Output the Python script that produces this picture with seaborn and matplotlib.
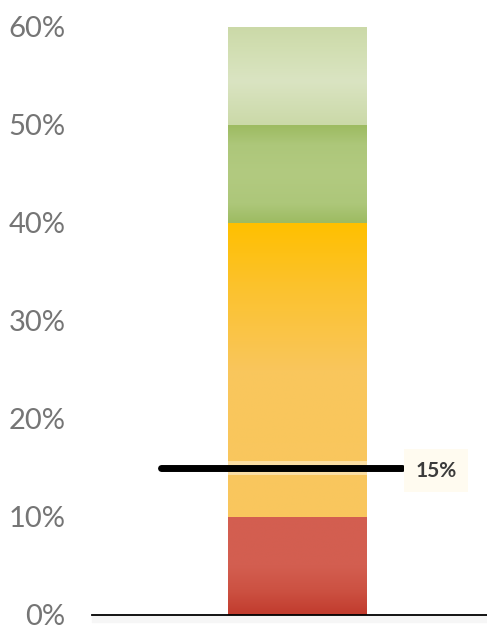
import numpy as np
import pandas as pd
import matplotlib
matplotlib.use("Agg")
import matplotlib.pyplot as plt
import seaborn as sns
from matplotlib.colors import LinearSegmentedColormap

# Band sizes (percentage points), stacked from the bottom up
bands = ["Low", "Mid", "High", "Top"]
band_values = [10, 30, 10, 10]
target_value = 15
target_label = "15%"
y_ticks = [0, 10, 20, 30, 40, 50, 60]
y_tick_labels = ["0%", "10%", "20%", "30%", "40%", "50%", "60%"]

# Vertical gradient stops for each band: (position from bottom, colour)
band_gradients = [
    [(0.0, "#C13B2D"), (0.25, "#CC5142"), (0.5, "#D35E50"), (1.0, "#D35F50")],
    [(0.0, "#F9C75E"), (0.5, "#F9C65C"), (0.8, "#FCC22A"), (1.0, "#FFC000")],
    [(0.0, "#9DBB61"), (0.2, "#ADC77A"), (0.5, "#B2CA80"), (0.8, "#ADC77A"), (1.0, "#9DBB61")],
    [(0.0, "#CBD9A8"), (0.45, "#DAE4C2"), (0.8, "#D1DEB1"), (1.0, "#CBD9A8")],
]

sns.set_style("white")
plt.rcParams["font.family"] = ["Lato", "DejaVu Sans"]

fig = plt.figure(figsize=(4.87, 6.29), dpi=100)
ax = fig.add_axes([0.1889, 0.0223, 0.8111, 0.9348])

tops = np.cumsum(band_values)
bottoms = tops - np.array(band_values)
frame = pd.DataFrame({"band": bands, "bottom": bottoms, "top": tops, "group": "Rate"})

# Cumulative bars, tallest first so each lower band sits on top
for i in reversed(range(len(bands))):
    sns.barplot(data=frame.iloc[[i]], x="group", y="top", color=band_gradients[i][-1][1],
                width=0.8, saturation=1, edgecolor="none", ax=ax, zorder=1)

# Gradient fill for every band, placed on the bar's own extent
bar = ax.patches[0]
x0, w = bar.get_x(), bar.get_width()
for (lo, hi, stops, name) in zip(frame["bottom"], frame["top"], band_gradients, frame["band"]):
    cmap = LinearSegmentedColormap.from_list(name, stops)
    grad = cmap(np.linspace(0, 1, 256))[:, None, :]
    ax.imshow(grad, origin="lower", extent=(x0, x0 + w, lo, hi), aspect="auto",
              interpolation="bilinear", zorder=2)

# Target marker line with a soft halo
line_x = [-0.791, 0.606]
ax.plot(line_x, [target_value, target_value], color="white", alpha=0.45, lw=10,
        solid_capstyle="butt", zorder=3)
ax.plot(line_x, [target_value, target_value], color="black", lw=5,
        solid_capstyle="round", zorder=4)
ax.annotate(target_label, xy=(line_x[1], target_value), xytext=(10, -2),
            textcoords="offset points", ha="left", va="center",
            fontsize=15, fontweight="bold", color="#3B3B3B",
            bbox=dict(boxstyle="square,pad=0.55", fc="#FFFBF0", ec="none"), zorder=5)

ax.set_xlim(-1.188, 1.101)
ax.set_ylim(0, 60)
ax.set_yticks(y_ticks)
ax.set_yticklabels(y_tick_labels, fontsize=21, fontweight="normal", color="#757575")
ax.tick_params(axis="y", length=0, pad=19)
ax.set_xticks([])
ax.set_xlabel("")
ax.set_ylabel("")
for side in ["left", "right", "top"]:
    ax.spines[side].set_visible(False)
ax.spines["bottom"].set_color("black")
ax.spines["bottom"].set_linewidth(1.3)
ax.spines["bottom"].set_zorder(6)

# Faint shadow under the baseline
ax.axhspan(-0.7, -0.15, color="#F6F6F6", zorder=0, clip_on=False)

fig.savefig("out.png", dpi=100)
